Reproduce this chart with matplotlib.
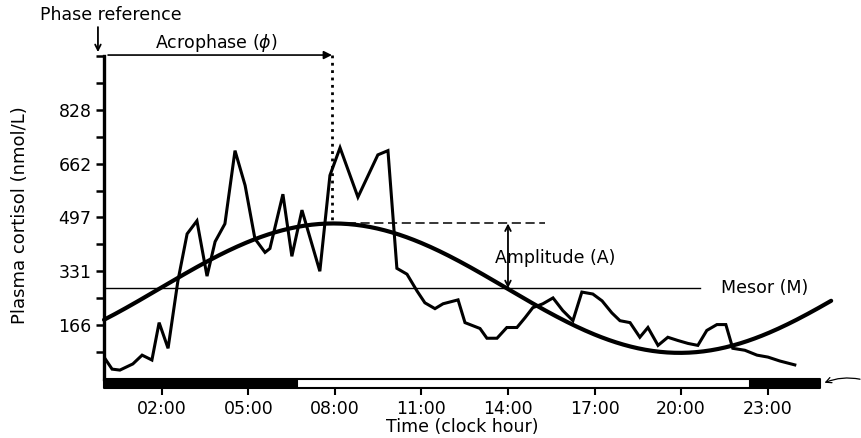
import numpy as np
import matplotlib.pyplot as plt

hours = [0.00, 0.28, 0.55, 1.00, 1.32, 1.66, 1.91, 2.22, 2.56, 2.88,
         3.22, 3.57, 3.85, 4.19, 4.54, 4.89, 5.23, 5.58, 5.75, 6.20,
         6.51, 6.86, 7.48, 7.83, 8.18, 8.80, 9.49, 9.84, 10.15, 10.50,
         10.85, 11.12, 11.47, 11.75, 12.27, 12.51, 13.03, 13.27, 13.62, 13.96,
         14.31, 14.59, 14.86, 15.21, 15.56, 15.90, 16.25, 16.56, 16.94, 17.26,
         17.60, 17.88, 18.23, 18.57, 18.85, 19.20, 19.54, 19.89, 20.24, 20.58,
         20.89, 21.24, 21.55, 21.79, 22.21, 22.63, 23.01, 23.42, 23.94]
cortisol = [67, 30, 27, 46, 73, 58, 173, 94, 301, 446,
            486, 316, 422, 477, 702, 595, 431, 389, 401, 568,
            377, 519, 331, 626, 711, 559, 689, 702, 340, 322,
            270, 234, 216, 231, 243, 173, 155, 125, 125, 158,
            158, 188, 219, 231, 249, 210, 179, 267, 261, 240,
            203, 179, 173, 128, 158, 103, 128, 118, 109, 103,
            149, 167, 167, 94, 88, 73, 67, 55, 43]

# cosinor parameters
mesor = 279
amplitude = 199
acrophase = 7.95
period = 24

# light/dark bar (hours)
dark_periods = [(0, 6.7), (22.4, 2.4)]
light_period = [(6.7, 15.7)]

tick_hours = [2, 5, 8, 11, 14, 17, 20, 23]
tick_labels = ["02:00", "05:00", "08:00", "11:00", "14:00", "17:00", "20:00", "23:00"]
# y ticks every 82.75 nmol/L, every second one labelled
y_ticks = [82.75 * k for k in range(1, 13)]
y_tick_labels = ["", "166", "", "331", "", "497", "", "662", "", "828", "", ""]

plt.rcParams['font.family'] = 'DejaVu Sans'

fig = plt.figure(figsize=(8.61, 4.38), dpi=100)
ax = fig.add_axes([0.1208, 0.1142, 0.8432, 0.7579])
ax.set_xlim(0, 25.16)
ax.set_ylim(-28, 993)

# fitted cosine curve
t = np.linspace(0, 25.2, 400)
fit = mesor + amplitude * np.cos(2 * np.pi * (t - acrophase) / period)
ax.plot(t, fit, color='black', lw=3.0, solid_capstyle='round', clip_on=False)

# raw data
ax.plot(hours, cortisol, color='black', lw=2.2, solid_joinstyle='miter')

# mesor line
ax.plot([0, 20.65], [mesor, mesor], color='black', lw=1.0)
ax.text(22.9, mesor, "Mesor (M)", ha='center', va='center', fontsize=12.5)

# amplitude marker
peak = mesor + amplitude
ax.plot([acrophase, 15.3], [peak, peak], color='black', lw=1.1, dashes=(6, 3))
ax.annotate("", xy=(14.0, peak), xytext=(14.0, mesor),
            arrowprops=dict(arrowstyle='<->', color='black', lw=1.3, shrinkA=0, shrinkB=0))
ax.text(15.63, 372, "Amplitude (A)", ha='center', va='center', fontsize=12.5)

# acrophase marker
ax.plot([acrophase - 0.05, acrophase - 0.05], [996, peak], color='black', lw=2.0,
        linestyle=':', clip_on=False)
ax.annotate("", xy=(acrophase - 0.05, 996), xytext=(0.14, 996),
            arrowprops=dict(arrowstyle='-|>', color='black', lw=1.2,
                            mutation_scale=12, shrinkA=0, shrinkB=0),
            annotation_clip=False)
ax.text(3.88, 1033, "Acrophase ($\\phi$)", ha='center', va='center', fontsize=12.5)

# phase reference
ax.annotate("", xy=(-0.21, 1005), xytext=(-0.21, 1082),
            arrowprops=dict(arrowstyle='->', color='black', lw=1.3, shrinkA=0, shrinkB=0),
            annotation_clip=False)
ax.text(0.25, 1119, "Phase reference", ha='center', va='center', fontsize=12.5, clip_on=False)

# light/dark bar
ax.broken_barh(dark_periods, (-28, 28), facecolors='black', edgecolor='black', lw=1.5,
               clip_on=False)
ax.broken_barh(light_period, (-28, 28), facecolors='white', edgecolor='black', lw=1.5,
               clip_on=False)
ax.annotate("", xy=(24.97, -12), xytext=(26.2, -1),
            arrowprops=dict(arrowstyle='->', color='black', lw=0.9,
                            connectionstyle='arc3,rad=0.15', shrinkA=0, shrinkB=0),
            annotation_clip=False)

# axes styling
for side in ['top', 'right', 'bottom']:
    ax.spines[side].set_visible(False)
ax.spines['left'].set_linewidth(2.4)
ax.spines['left'].set_bounds(0, 993)

ax.set_yticks(y_ticks)
ax.set_yticklabels(y_tick_labels, fontsize=12.5)
ax.tick_params(axis='y', direction='out', length=6, width=1.8, pad=3)

ax.set_xticks(tick_hours)
ax.set_xticklabels(tick_labels, fontsize=12.5)
ax.tick_params(axis='x', direction='out', length=5, width=1.5, pad=4)

fig.text(462 / 861, 1 - 427 / 438, "Time (clock hour)", ha='center', va='center', fontsize=12.5)
fig.text(20 / 861, 1 - 215 / 438, "Plasma cortisol (nmol/L)", ha='center', va='center',
         rotation=90, fontsize=13)

fig.savefig("out.png", dpi=100)
